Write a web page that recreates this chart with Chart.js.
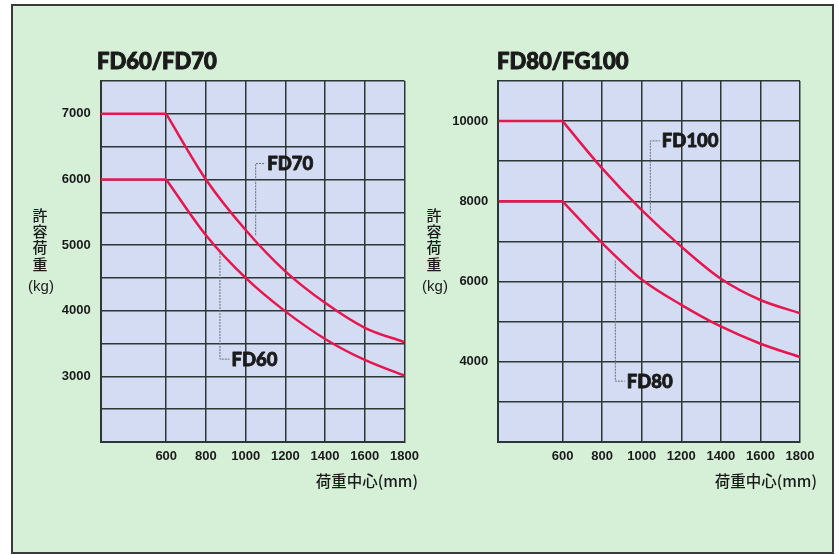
<!DOCTYPE html>
<html>
<head>
<meta charset="utf-8">
<script src="https://cdn.jsdelivr.net/npm/chart.js@4.4.0/dist/chart.umd.min.js"></script>
<style>
  html, body { margin: 0; padding: 0; background: #fff; }
  #panel { position: absolute; left: 11px; top: 4px; width: 823px; height: 550px; box-sizing: border-box;
           background: #d6f0d8; border: 2px solid #3a3a3a; }
  canvas { position: absolute; top: 0; }
  #left { left: 0; }
  #right { left: 420px; }
</style>
</head>
<body>
<div id="panel"></div>
<canvas id="left" width="440" height="555"></canvas>
<canvas id="right" width="418" height="555"></canvas>
<script>
// load centre (mm) on the x axis, one value per grid line
const loadCenters = [600, 800, 1000, 1200, 1400, 1600, 1800];

// allowable load (kg)
const fd60  = [6000, 5150, 4500, 3990, 3570, 3250, 3010];
const fd70  = [7000, 6000, 5230, 4600, 4120, 3740, 3520];
const fd80  = [8000, 6960, 6050, 5420, 4880, 4450, 4120];
const fd100 = [10000, 8820, 7780, 6870, 6070, 5540, 5210];

// labelled y ticks
const leftYLabels  = [3000, 4000, 5000, 6000, 7000];
const rightYLabels = [4000, 6000, 8000, 10000];

const RED = '#e6174e';
const GRID = '#2c3636';
const INK = '#1a1a1a';
const TICK_FONT = { family: '"Liberation Sans", Arial, sans-serif', size: 13, weight: 'bold' };

const plotBg = {
  id: 'plotBg',
  beforeDraw(chart) {
    const a = chart.chartArea, ctx = chart.ctx;
    ctx.save();
    ctx.fillStyle = '#d3dcf3';
    ctx.fillRect(a.left, a.top, a.right - a.left, a.bottom - a.top);
    ctx.restore();
  }
};

// heavy text: fill plus a thin stroke to thicken the strokes
function heavyText(ctx, s, x, y, w) {
  ctx.lineWidth = w;
  ctx.strokeStyle = INK;
  ctx.lineJoin = 'round';
  ctx.strokeText(s, x, y);
  ctx.fillText(s, x, y);
}

const texts = {
  id: 'texts',
  afterDraw(chart, args, o) {
    const ctx = chart.ctx, xs = chart.scales.x, ys = chart.scales.y;
    ctx.save();
    ctx.fillStyle = INK;

    // chart title
    ctx.font = '900 22px Lato, sans-serif';
    ctx.textAlign = 'left';
    ctx.textBaseline = 'middle';
    heavyText(ctx, o.title, o.titleX, 62, 1);

    // vertical y title
    ctx.font = '500 15px "Noto Sans CJK JP", sans-serif';
    ctx.textAlign = 'center';
    ['許', '容', '荷', '重'].forEach((c, i) => ctx.fillText(c, o.yTitleX, 215 + i * 16.3));
    ctx.font = '15px "Liberation Sans", Arial, sans-serif';
    ctx.fillText('(kg)', o.yTitleX + 1, 287);

    // x title
    ctx.font = '500 15.5px "Noto Sans CJK JP", sans-serif';
    ctx.textAlign = 'right';
    ctx.fillText('荷重中心(mm)', o.xTitleRight, 481);

    // callouts
    o.callouts.forEach(c => {
      const px = xs.getPixelForValue(c.x);
      const pt = ys.getPixelForValue(c.yText);
      const pe = ys.getPixelForValue(c.yEnd);
      ctx.strokeStyle = '#6a6f72';
      ctx.lineWidth = 1;
      ctx.setLineDash([2, 1]);
      ctx.beginPath();
      ctx.moveTo(px + 0.5, pe);
      ctx.lineTo(px + 0.5, pt + 0.5);
      ctx.lineTo(px + 10, pt + 0.5);
      ctx.stroke();
      ctx.setLineDash([]);
      ctx.font = '900 18.5px Lato, sans-serif';
      ctx.textAlign = 'left';
      heavyText(ctx, c.text, px + 12, pt + 1, 0.8);
    });
    ctx.restore();
  }
};

function lineSets(values, xMin) {
  const base = { borderColor: RED, borderWidth: 2.5, pointRadius: 0, fill: false };
  return [
    Object.assign({ data: [{ x: xMin, y: values[0] }, { x: loadCenters[0], y: values[0] }], tension: 0 }, base),
    Object.assign({ data: loadCenters.map((x, i) => ({ x: x, y: values[i] })), cubicInterpolationMode: 'monotone' }, base)
  ];
}

function makeChart(id, c) {
  return new Chart(document.getElementById(id), {
    type: 'line',
    data: { datasets: lineSets(c.lower, c.xMin).concat(lineSets(c.upper, c.xMin)) },
    options: {
      responsive: false,
      animation: false,
      layout: { padding: { left: 0, right: c.padRight, top: 81, bottom: 83 } },
      plugins: {
        legend: { display: false },
        tooltip: { enabled: false },
        texts: c.texts
      },
      scales: {
        x: {
          type: 'linear',
          min: c.xMin,
          max: 1800,
          afterBuildTicks: s => { s.ticks = loadCenters.map(v => ({ value: v })); },
          afterFit: s => { s.height = 30; },
          grid: { color: GRID, lineWidth: 1.5, drawTicks: false },
          border: { display: true, color: GRID, width: 2 },
          ticks: { padding: 7, color: INK, font: TICK_FONT, maxRotation: 0, autoSkip: false, callback: v => String(v) }
        },
        y: {
          min: c.yMin,
          max: c.yMax,
          afterFit: s => { s.width = c.yAxisWidth; },
          grid: { color: GRID, lineWidth: 1.5, drawTicks: false },
          border: { display: true, color: GRID, width: 2 },
          ticks: {
            stepSize: c.yStep, padding: 10, color: INK, font: TICK_FONT, autoSkip: false,
            callback: v => c.yLabels.includes(v) ? String(v) : ''
          }
        }
      }
    },
    plugins: [plotBg, texts]
  });
}

makeChart('left', {
  lower: fd60, upper: fd70, xMin: 270,
  yMin: 2000, yMax: 7500, yStep: 500, yLabels: leftYLabels,
  yAxisWidth: 100.7, padRight: 35.5,
  texts: {
    title: 'FD60/FD70', titleX: 97, yTitleX: 40, xTitleRight: 418,
    callouts: [
      { text: 'FD70', x: 1048, yText: 6250, yEnd: 5150 },
      { text: 'FD60', x: 868, yText: 3270, yEnd: 4880 }
    ]
  }
});

makeChart('right', {
  lower: fd80, upper: fd100, xMin: 275,
  yMin: 2000, yMax: 11000, yStep: 1000, yLabels: rightYLabels,
  yAxisWidth: 78.3, padRight: 38,
  texts: {
    title: 'FD80/FG100', titleX: 77, yTitleX: 14, xTitleRight: 397,
    callouts: [
      { text: 'FD100', x: 1041, yText: 9520, yEnd: 7690 },
      { text: 'FD80', x: 864, yText: 3530, yEnd: 6520 }
    ]
  }
});
</script>
</body>
</html>
